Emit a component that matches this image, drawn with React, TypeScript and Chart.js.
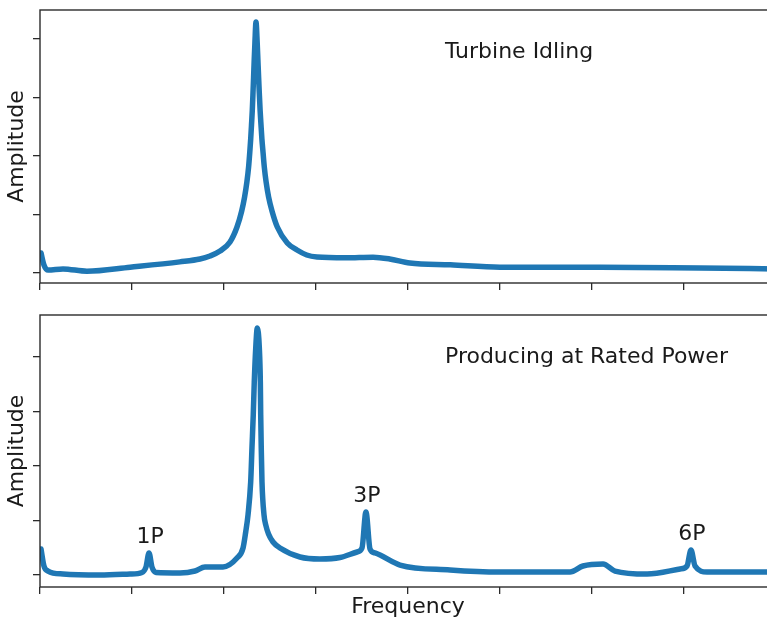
import React, { useEffect, useRef } from 'react';
import { Chart, registerables } from 'chart.js';

Chart.register(...registerables);

// ---- Data (frequency in x-tick units, amplitude in y-tick units) ----
const topFreq = [0.011, 0.043, 0.087, 0.25, 0.51, 0.98, 1.52, 1.739, 1.848, 1.957, 2.0652, 2.1413, 2.1924, 2.2239, 2.2489, 2.2674, 2.2804, 2.2902, 2.2989, 2.3076, 2.3152, 2.3217, 2.3283, 2.3359, 2.3478, 2.3609, 2.3685, 2.3761, 2.3837, 2.3924, 2.4022, 2.412, 2.4239, 2.438, 2.4576, 2.4848, 2.5217, 2.5793, 2.688, 2.7935, 2.899, 3.011, 3.32, 3.62, 3.8, 4.02, 4.46, 5.0, 6.09, 7.17, 8.0];
const topAmp = [0.342, 0.137, 0.05, 0.07, 0.03, 0.1, 0.19, 0.239, 0.291, 0.376, 0.53, 0.786, 1.06, 1.299, 1.556, 1.812, 2.068, 2.291, 2.53, 2.786, 3.077, 3.35, 3.641, 3.932, 4.291, 3.932, 3.641, 3.35, 3.077, 2.786, 2.53, 2.291, 2.068, 1.812, 1.556, 1.299, 1.06, 0.786, 0.513, 0.393, 0.308, 0.274, 0.26, 0.27, 0.24, 0.17, 0.14, 0.1, 0.1, 0.085, 0.07];

const bottomFreq = [0.011, 0.043, 0.087, 0.25, 0.652, 0.978, 1.109, 1.152, 1.185, 1.217, 1.261, 1.522, 1.685, 1.793, 1.989, 2.141, 2.207, 2.236, 2.261, 2.29, 2.304, 2.318, 2.329, 2.345, 2.362, 2.384, 2.395, 2.399, 2.405, 2.413, 2.435, 2.454, 2.484, 2.533, 2.609, 2.826, 3.043, 3.261, 3.446, 3.5, 3.543, 3.587, 3.641, 3.913, 4.457, 5.0, 5.761, 5.902, 6.12, 6.25, 6.598, 6.957, 7.033, 7.076, 7.12, 7.25, 7.902, 8.0];
const bottomAmp = [0.477, 0.165, 0.073, 0.018, 0.0, 0.018, 0.046, 0.147, 0.404, 0.147, 0.046, 0.037, 0.073, 0.147, 0.147, 0.312, 0.495, 0.789, 1.101, 1.706, 2.33, 2.936, 3.541, 4.165, 4.532, 4.165, 3.541, 2.936, 2.33, 1.706, 1.101, 0.917, 0.752, 0.606, 0.495, 0.33, 0.294, 0.321, 0.422, 0.495, 1.156, 0.477, 0.404, 0.183, 0.092, 0.055, 0.055, 0.165, 0.202, 0.073, 0.018, 0.11, 0.165, 0.459, 0.165, 0.055, 0.055, 0.055];

const peakLabels = ['1P', '3P', '6P'];
const peakFreq = [1.185, 3.543, 7.076];
const peakAmp = [0.404, 1.156, 0.459];

const panelTitles = ['Turbine Idling', 'Producing at Rated Power'];
const xAxisTitle = 'Frequency';
const yAxisTitle = 'Amplitude';

const FONT = '"DejaVu Sans", "Liberation Sans", sans-serif';
const TEXT = '#1a1a1a';
const AXIS = '#2b2b2b';
const LINE = '#1f77b4';

type PanelProps = {
  freq: number[];
  amp: number[];
  title: string;
  yMin: number;
  yMax: number;
  showXTitle: boolean;
  labels: string[];
  labelFreq: number[];
  labelAmp: number[];
  width: number;
  height: number;
  padTop: number;
  xAxisHeight: number;
};

function Panel(p: PanelProps) {
  const ref = useRef<HTMLCanvasElement | null>(null);
  useEffect(() => {
    if (!ref.current) return;
    const decor = {
      id: 'decor',
      afterDatasetsDraw(chart: any) {
        const { ctx, chartArea: a } = chart;
        ctx.save();
        ctx.strokeStyle = AXIS;
        ctx.lineWidth = 1.4;
        ctx.strokeRect(a.left, a.top, a.right - a.left, a.bottom - a.top);
        ctx.fillStyle = TEXT;
        ctx.font = `22px ${FONT}`;
        ctx.textAlign = 'left';
        ctx.textBaseline = 'alphabetic';
        ctx.fillText(p.title, a.left + 405, a.top + 48);
        ctx.textAlign = 'center';
        for (let i = 0; i < p.labels.length; i++) {
          const x = chart.scales.x.getPixelForValue(p.labelFreq[i]);
          const y = chart.scales.y.getPixelForValue(p.labelAmp[i]);
          ctx.fillText(p.labels[i], x + 1, y - 10);
        }
        ctx.restore();
      },
    };
    const grid = {
      drawOnChartArea: false,
      drawTicks: true,
      tickLength: 7,
      tickColor: AXIS,
      lineWidth: 1.3,
    };
    const chart = new Chart(ref.current, {
      type: 'line',
      data: {
        datasets: [
          {
            data: p.freq.map((f, i) => ({ x: f, y: p.amp[i] })),
            borderColor: LINE,
            borderWidth: 5.5,
            pointRadius: 0,
            fill: false,
            cubicInterpolationMode: 'monotone',
            borderCapStyle: 'round',
            borderJoinStyle: 'round',
          } as any,
        ],
      },
      options: {
        animation: false,
        responsive: false,
        layout: { padding: { top: p.padTop, right: 4, left: 0, bottom: 0 } },
        plugins: { legend: { display: false }, tooltip: { enabled: false } },
        scales: {
          x: {
            type: 'linear',
            min: 0,
            max: 8,
            ticks: { display: false, stepSize: 1, includeBounds: false },
            grid,
            border: { display: false },
            title: {
              display: p.showXTitle,
              text: xAxisTitle,
              color: TEXT,
              font: { family: FONT, size: 22 },
              padding: { top: 0, bottom: 2 },
            },
            afterFit: (s: any) => {
              s.height = p.xAxisHeight;
            },
          },
          y: {
            type: 'linear',
            min: p.yMin,
            max: p.yMax,
            ticks: { display: false, stepSize: 1, includeBounds: false },
            grid,
            border: { display: false },
            title: {
              display: true,
              text: yAxisTitle,
              color: TEXT,
              font: { family: FONT, size: 22 },
              padding: { top: 4, bottom: 4 },
            },
            afterFit: (s: any) => {
              s.width = 40;
            },
          },
        },
      } as any,
      plugins: [decor],
    });
    return () => chart.destroy();
  }, []);
  return <canvas ref={ref} width={p.width} height={p.height} style={{ display: 'block' }} />;
}

export default function App() {
  return (
    <div
      style={{
        position: 'absolute',
        left: 0,
        top: 0,
        width: 767,
        height: 622,
        overflow: 'hidden',
        background: '#ffffff',
      }}
    >
      <div style={{ position: 'absolute', left: 0, top: 0 }}>
        <Panel
          freq={topFreq}
          amp={topAmp}
          title={panelTitles[0]}
          yMin={-0.171}
          yMax={4.496}
          showXTitle={false}
          labels={[]}
          labelFreq={[]}
          labelAmp={[]}
          width={780}
          height={292}
          padTop={10}
          xAxisHeight={9}
        />
      </div>
      <div style={{ position: 'absolute', left: 0, top: 300 }}>
        <Panel
          freq={bottomFreq}
          amp={bottomAmp}
          title={panelTitles[1]}
          yMin={-0.22}
          yMax={4.77}
          showXTitle={true}
          labels={peakLabels}
          labelFreq={peakFreq}
          labelAmp={peakAmp}
          width={780}
          height={322}
          padTop={15}
          xAxisHeight={35}
        />
      </div>
    </div>
  );
}
